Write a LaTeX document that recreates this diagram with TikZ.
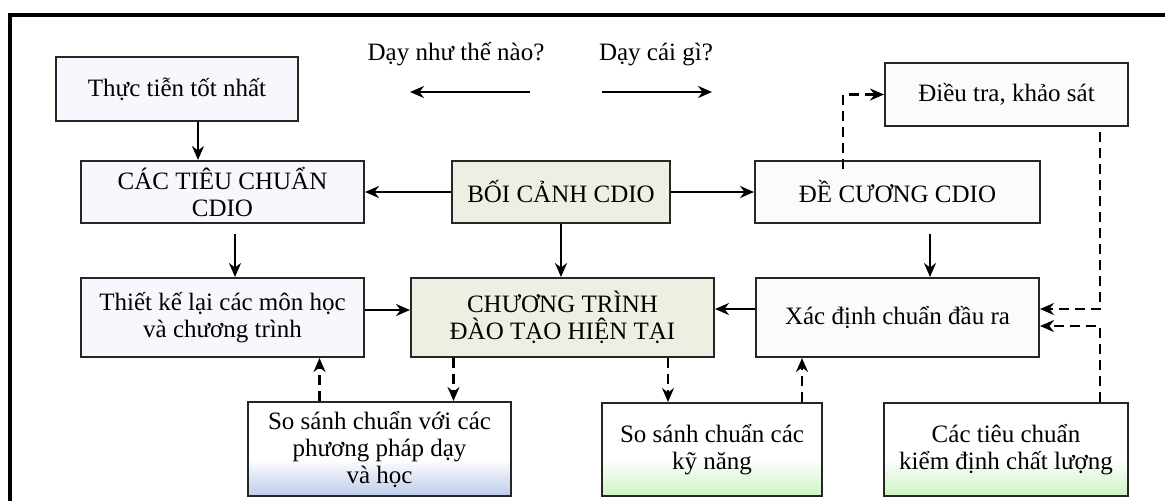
\documentclass[tikz,border=0pt]{standalone}
\usepackage{fontspec}
\setmainfont{Liberation Serif}
\usepackage{xcolor}
\usepackage{tikz}
\usetikzlibrary{shapes.geometric, arrows, arrows.meta}
\definecolor{fillblue}{RGB}{246,248,253}
\definecolor{fillolive}{RGB}{237,239,226}
\definecolor{fillwhite}{RGB}{250,252,251}
\definecolor{shadeblue}{RGB}{188,204,234}
\definecolor{shadegreen}{RGB}{206,242,194}
\pgfdeclareverticalshading{cmpblueshade}{100bp}{color(0bp)=(shadeblue); color(25bp)=(shadeblue); color(45bp)=(white); color(100bp)=(white)}
\pgfdeclareverticalshading{cmpgreenshade}{100bp}{color(0bp)=(shadegreen); color(25bp)=(shadegreen); color(45bp)=(white); color(100bp)=(white)}
\tikzstyle{process} = [rectangle, minimum height=31pt, inner sep=2pt, text centered, align=center, draw=black!85, line width=1pt, font=\fontsize{12.5}{13.5}\selectfont]
\tikzstyle{stdbox} = [process, fill=fillblue]
\tikzstyle{corebox} = [process, fill=fillolive]
\tikzstyle{plainbox} = [process, fill=fillwhite]
\tikzstyle{cmpblue} = [process, shading=cmpblueshade]
\tikzstyle{cmpgreen} = [process, shading=cmpgreenshade]
\tikzstyle{arrow} = [line width=1.1pt,->,>={Stealth[length=7pt,width=6pt]}]
\tikzstyle{dasharrow} = [arrow, dash pattern=on 5pt off 3pt]

\begin{document}
\begin{tikzpicture}[x=0.5pt, y=-0.5pt]
		\useasboundingbox (0,0) rectangle (1165,500);
		\draw[line width=2pt] (1170,15) -- (10,15) -- (10,505);
		\node (how) [font=\fontsize{12.5}{13.5}\selectfont] at (456,54) {Dạy như thế nào?};
		\node (what) [font=\fontsize{12.5}{13.5}\selectfont] at (656,54) {Dạy cái gì?};
		\coordinate (howR) at (530,92);
		\coordinate (howL) at (410,92);
		\coordinate (whatL) at (602,92);
		\coordinate (whatR) at (712,92);
		\node (prac) [stdbox, minimum width=121pt, minimum height=32pt] at (177,89) {Thực tiễn tốt nhất};
		\node (std) [stdbox, minimum width=141.5pt] at (222.5,192) {CÁC TIÊU CHUẨN\\CDIO};
		\node (ctx) [corebox, minimum width=109pt] at (561,192) {BỐI CẢNH CDIO};
		\node (syl) [plainbox, minimum width=142.5pt] at (897.5,192) {ĐỀ CƯƠNG CDIO};
		\node (survey) [plainbox, minimum width=121.5pt, minimum height=31.5pt] at (1006.5,94.5) {Điều tra, khảo sát};
		\node (redesign) [stdbox, minimum width=141.5pt, minimum height=39.5pt] at (222.5,317.5) {Thiết kế lại các môn học\\và chương trình};
		\node (prog) [corebox, minimum width=151.5pt, minimum height=39.5pt] at (562.5,317.5) {CHƯƠNG TRÌNH\\ĐÀO TẠO HIỆN TẠI};
		\node (outc) [plainbox, minimum width=141.5pt, minimum height=39.5pt] at (897.5,317.5) {Xác định chuẩn đầu ra};
		\node (bmteach) [cmpblue, minimum width=131.5pt, minimum height=47pt] at (379.5,449) {So sánh chuẩn với các\\phương pháp dạy\\và học};
		\node (bmskill) [cmpgreen, minimum width=110pt, minimum height=46.5pt] at (712,449.5) {So sánh chuẩn các\\kỹ năng};
		\node (accr) [cmpgreen, minimum width=122pt, minimum height=46.5pt] at (1006,449.5) {Các tiêu chuẩn\\kiểm định chất lượng};
		\draw [arrow] (howR) -- (howL);
		\draw [arrow] (whatL) -- (whatR);
		\draw [arrow] ([xshift=10.5pt]prac.south) -- ([xshift=10.5pt]prac.south |- std.north);
		\draw [arrow] (ctx.west) -- (std.east);
		\draw [arrow] (ctx.east) -- (syl.west);
		\draw [arrow] ([xshift=6.25pt,yshift=-5pt]std.south) -- ([xshift=6.25pt]std.south |- redesign.north);
		\draw [arrow] (ctx.south) -- (ctx.south |- prog.north);
		\draw [arrow] ([xshift=16.25pt,yshift=-5pt]syl.south) -- ([xshift=16.25pt]syl.south |- outc.north);
		\draw [arrow] ([yshift=3.75pt]redesign.east) -- ([yshift=3.75pt]redesign.east -| prog.west);
		\draw [arrow] ([yshift=4.25pt]outc.west) -- ([yshift=4.25pt]outc.west -| prog.east);
		\draw [dasharrow] ([xshift=-54.5pt]prog.south) -- ([xshift=-54.5pt]prog.south |- bmteach.north);
		\draw [dasharrow] ([xshift=-30pt]bmteach.north) -- ([xshift=-30pt]bmteach.north |- redesign.south);
		\draw [dasharrow] ([xshift=52.75pt]prog.south) -- ([xshift=52.75pt]prog.south |- bmskill.north);
		\draw [dasharrow] ([xshift=45pt]bmskill.north) -- ([xshift=45pt]bmskill.north |- outc.south);
		\draw [dasharrow] ([xshift=-27.25pt,yshift=-4.5pt]syl.north) |- (survey.west);
		\draw [dasharrow] ([xshift=46.75pt,yshift=-2.5pt]survey.south) |- ([yshift=4.25pt]outc.east);
		\draw [dasharrow] ([xshift=47pt]accr.north) |- ([yshift=-4.25pt]outc.east);
	\end{tikzpicture}
\end{document}
